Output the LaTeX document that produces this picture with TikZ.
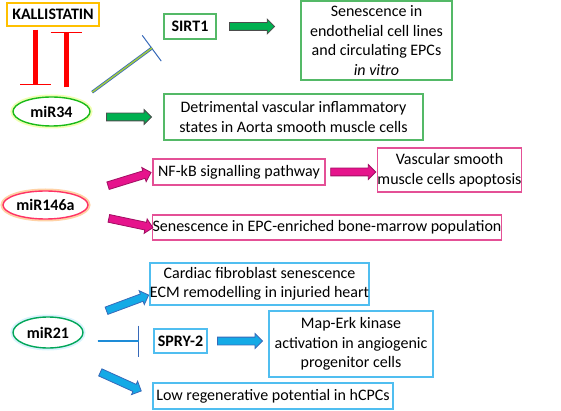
\documentclass[tikz,border=0pt]{standalone}
\usepackage{fontspec}
\setmainfont{Carlito}
\usetikzlibrary{shapes.geometric,shapes.arrows,arrows.meta,calc}

\definecolor{kallgold}{RGB}{255,192,0}
\definecolor{boxgreen}{RGB}{84,185,103}
\definecolor{boxpink}{RGB}{228,80,150}
\definecolor{boxblue}{RGB}{80,190,240}
\definecolor{arrgreen}{RGB}{0,176,80}
\definecolor{arrpink}{RGB}{230,20,140}
\definecolor{arrblue}{RGB}{20,170,230}
\definecolor{inhblue}{RGB}{55,105,185}
\definecolor{inhlime}{RGB}{165,205,60}
\definecolor{inhsky}{RGB}{30,140,215}

\begin{document}
\begin{tikzpicture}[x=1pt, y=-1pt, font=\fontsize{16}{19.5}\selectfont,
    box/.style={draw, line width=1.2pt, align=center, inner sep=0pt},
    bbox/.style={box, font=\fontsize{16}{19.5}\selectfont\bfseries},
    mirna/.style={ellipse, draw=#1, line width=1.4pt, fill=white, inner sep=0pt,
        font=\fontsize{16}{19.5}\selectfont\bfseries},
    glow/.style={preaction={draw=#1, line width=5pt}},
    blockarrow/.style={single arrow, single arrow head extend=3.5pt, inner xsep=0pt, inner ysep=3.5pt,
        minimum height=#1, line width=0.8pt, sloped},
    blockarrow/.default=45pt,
    garrow/.style={blockarrow, fill=arrgreen, draw=black!70},
    parrow/.style={blockarrow, fill=arrpink, draw=arrpink!70!black},
    barrow/.style={blockarrow, fill=arrblue, draw=inhblue},
    redinh/.style={draw=red, line width=5pt, -{Bar[width=31pt, line width=1.5pt]}},
    thinbar/.style={draw=inhblue, line width=1pt, -{Bar[width=#1]}},
  ]
    \useasboundingbox (0,0) rectangle (561,411);

    % miR34
    \node[bbox, draw=kallgold, minimum width=92, minimum height=23] (kall) at (53,14.5) {KALLISTATIN};
    \node[mirna=green!70!black!90, glow=green!20!yellow!30, minimum width=77, minimum height=29] (mir34) at (51.5,111.5) {miR34};
    \node[bbox, draw=boxgreen, minimum width=52, minimum height=25] (sirt1) at (190,26.5) {SIRT1};
    \node[box, draw=boxgreen, minimum width=151, minimum height=79] (sen1) at (376.5,40.5)
        {Senescence in\\endothelial cell lines\\and circulating EPCs\\\textit{in vitro}};
    \node[box, draw=boxgreen, minimum width=259, minimum height=46] (detr) at (293.5,117)
        {Detrimental vascular inflammatory\\states in Aorta smooth muscle cells};

    \draw[redinh, shorten <=3pt, shorten >=11pt] ($(kall.south)+(-18,0)$) -- ($(kall.south |- mir34.north)+(-18,0)$);
    \draw[redinh, shorten <=9pt, shorten >=5pt] ($(kall.south |- mir34.north)+(13,0)$) -- ($(kall.south)+(13,0)$);
    \draw[thinbar=32pt, shorten <=15pt, shorten >=14pt] (mir34.20) -- (sirt1.south west);
    \draw[draw=inhblue, double=inhlime, line width=0.8pt, double distance=1.4pt, shorten <=15pt, shorten >=14pt] (mir34.20) -- (sirt1.south west);
    \path (sirt1.east) -- (sirt1.east -| sen1.west) node[pos=0.4, garrow] {};
    \path (mir34.east |- detr.west) -- (detr.west) node[midway, garrow] {};

    % miR146a
    \node[mirna=red!75!magenta!80, glow=orange!35, minimum width=85, minimum height=28] (mir146a) at (45.5,205) {miR146a};
    \node[box, draw=boxpink, minimum width=172, minimum height=26] (nfkb) at (239,172) {NF-kB signalling pathway};
    \node[box, draw=boxpink, minimum width=143, minimum height=44] (vsmc) at (449.5,170)
        {Vascular smooth\\muscle cells apoptosis};
    \node[box, draw=boxpink, minimum width=348, minimum height=25] (epc) at (327,227.5)
        {Senescence in EPC-enriched bone-marrow population};

    \path (mir146a) -- (nfkb.west) node[pos=0.67, parrow=43pt] {};
    \path (mir146a) -- (epc.west) node[pos=0.67, parrow=43pt] {};
    \path (nfkb.east) -- (nfkb.east -| vsmc.west) node[midway, parrow] {};

    % miR21
    \node[mirna=teal!70!green, glow=cyan!15, minimum width=70, minimum height=31] (mir21) at (48,332.5) {miR21};
    \node[box, draw=boxblue, minimum width=213, minimum height=42] (card) at (259.5,284)
        {Cardiac fibroblast senescence\\ECM remodelling in injuried heart};
    \node[bbox, draw=boxblue, minimum width=53, minimum height=24] (spry) at (180.5,341) {SPRY-2};
    \node[box, draw=boxblue, minimum width=164, minimum height=66] (map) at (351,344)
        {Map-Erk kinase\\activation in angiogenic\\progenitor cells};
    \node[box, draw=boxblue, minimum width=240, minimum height=26] (low) at (273,396)
        {Low regenerative potential in hCPCs};

    \path (mir21) -- ($(card.west)!0.5!(card.south west)$) node[pos=0.68, barrow=43pt] {};
    \path (mir21.south) -- (low.west) node[pos=0.68, barrow=45pt] {};
    \path (spry.east) -- (spry.east -| map.west) node[midway, barrow] {};
    \draw[thinbar=31pt, shorten <=14pt, shorten >=14pt] (mir21.east |- spry.west) -- (spry.west);
    \draw[draw=inhblue, double=inhsky, line width=0.8pt, double distance=1.2pt, shorten <=14pt, shorten >=14pt] (mir21.east |- spry.west) -- (spry.west);
\end{tikzpicture}
\end{document}
